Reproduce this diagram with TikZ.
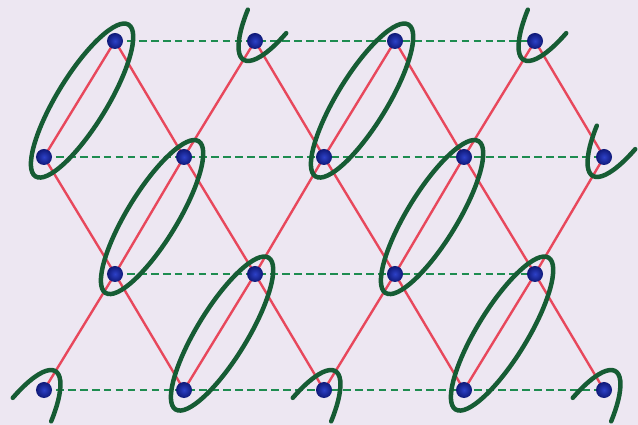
\documentclass[tikz,border=0pt]{standalone}
\usetikzlibrary{calc}
\definecolor{bgcol}{RGB}{237,231,242}
\definecolor{bondred}{RGB}{232,72,92}
\definecolor{dashgreen}{RGB}{30,140,80}
\definecolor{loopgreen}{RGB}{22,92,52}
\definecolor{dotin}{RGB}{45,65,200}
\definecolor{dotout}{RGB}{15,25,120}
\tikzset{
  site/.style={circle, minimum size=0.4cm, inner sep=0pt,
    shading=radial, inner color=dotin, outer color=dotout},
  bond/.style={bondred, line width=1.7pt},
  chain/.style={dashgreen, line width=1.6pt, dash pattern=on 5.5pt off 3pt},
  dimer/.style={loopgreen, line width=3.2pt, line cap=round}
}
\begin{document}
\begin{tikzpicture}[x=0.025cm, y=0.025cm]
    % Draw the background
    \fill[bgcol] (0,0) rectangle (638,-425);
    \useasboundingbox (0,0) rectangle (638,-425);
    % Place the sites
    \foreach \i in {1,...,4} {
      \coordinate (a\i) at ({115+140*(\i-1)},-41);
      \coordinate (c\i) at ({115+140*(\i-1)},-274);
    }
    \foreach \i in {1,...,5} {
      \coordinate (b\i) at ({44+140*(\i-1)},-157);
      \coordinate (d\i) at ({44+140*(\i-1)},-390);
    }
    % Draw the red bonds
    \foreach \i [evaluate=\i as \j using int(\i+1)] in {1,...,4} {
      \draw[bond] (a\i) -- (b\i) (a\i) -- (b\j);
      \draw[bond] (c\i) -- (d\i) (c\i) -- (d\j);
      \draw[bond] (c\i) -- (b\i) (c\i) -- (b\j);
    }
    % Draw the dashed chains
    \draw[chain] (a1) -- (a4);
    \draw[chain] (b1) -- (b5);
    \draw[chain] (c1) -- (c4);
    \draw[chain] (d1) -- (d5);
    % Draw the dots
    \foreach \n in {a1,a2,a3,a4,c1,c2,c3,c4,b1,b2,b3,b4,b5,d1,d2,d3,d4,d5}
      \node[site] (s\n) at (\n) {};
    % Draw the full dimer loops
    \foreach \p/\q in {a1/b1, b2/c1, c2/d2, a3/b3, b4/c3, c4/d4} {
      \begin{scope}[shift={($(\p)!0.5!(\q)$)}, rotate=58.5]
        \draw[dimer] (0,-3) ellipse (89 and 25);
      \end{scope}
    }
    % Draw the loop ends cut at the top
    \foreach \n in {a2, a4, b5} {
      \begin{scope}[shift={(\n)}, rotate=58.5]
        \draw[dimer] ({68+90*cos(120)},{26*sin(120)})
          arc[start angle=120, end angle=240, x radius=90, y radius=26];
      \end{scope}
    }
    % Draw the loop ends cut at the bottom
    \foreach \n in {d1, d3, d5} {
      \begin{scope}[shift={(\n)}, rotate=58.5]
        \draw[dimer] ({-68+90*cos(-60)},{26*sin(-60)})
          arc[start angle=-60, end angle=60, x radius=90, y radius=26];
      \end{scope}
    }
\end{tikzpicture}
\end{document}
